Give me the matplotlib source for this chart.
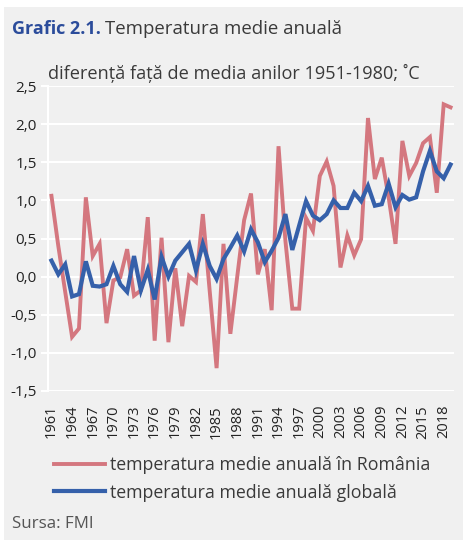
import matplotlib.pyplot as plt
from matplotlib.patches import Rectangle

# date: abaterea temperaturii medii anuale fata de media 1951-1980
ani = list(range(1961, 2020))
romania = [1.06, 0.40, -0.20, -0.79, -0.68, 1.04, 0.27, 0.43, -0.61, -0.05,
           -0.01, 0.36, -0.25, -0.18, 0.78, -0.84, 0.51, -0.86, 0.11, -0.65,
           0.01, -0.07, 0.82, -0.19, -1.20, 0.43, -0.75, 0.00, 0.74, 1.09,
           0.03, 0.36, -0.44, 1.71, 0.47, -0.42, -0.42, 0.77, 0.60, 1.32,
           1.51, 1.19, 0.12, 0.54, 0.28, 0.49, 2.08, 1.28, 1.56, 1.04,
           0.43, 1.78, 1.32, 1.49, 1.75, 1.83, 1.10, 2.26, 2.22]
globala = [0.21, 0.03, 0.16, -0.26, -0.23, 0.20, -0.12, -0.13, -0.10, 0.14,
           -0.10, -0.20, 0.27, -0.18, 0.09, -0.30, 0.26, 0.00, 0.21, 0.32,
           0.43, 0.08, 0.43, 0.14, -0.03, 0.23, 0.38, 0.54, 0.33, 0.62,
           0.45, 0.19, 0.34, 0.51, 0.82, 0.35, 0.67, 0.99, 0.80, 0.74,
           0.82, 1.00, 0.90, 0.90, 1.10, 0.99, 1.19, 0.93, 0.95, 1.22,
           0.91, 1.07, 1.01, 1.04, 1.38, 1.65, 1.38, 1.29, 1.47]
yticks = [-1.5, -1.0, -0.5, 0.0, 0.5, 1.0, 1.5, 2.0, 2.5]
etichete = ['temperatura medie anuală în România', 'temperatura medie anuală globală']

gri = '#f0f0f0'
rosu = '#d4777f'
albastru = '#3560aa'
text_col = '#3a3a3a'
font = ['Open Sans', 'DejaVu Sans']

plt.rcParams['font.family'] = font

fig = plt.figure(figsize=(4.64, 5.40), dpi=100)
fig.patch.set_facecolor('white')
fig.patches.append(Rectangle((4 / 464, 0), 1, 533 / 540, transform=fig.transFigure,
                             facecolor=gri, edgecolor='none', zorder=-10))

ax = fig.add_axes([48 / 464, 1 - 391 / 540, (454 - 48) / 464, (391 - 86) / 540])
ax.set_facecolor(gri)

ax.plot(ani, romania, color=rosu, lw=2.8, solid_joinstyle='miter', zorder=3,
        label=etichete[0])
ax.plot(ani, globala, color=albastru, lw=3.0, solid_joinstyle='miter', zorder=4,
        label=etichete[1])

ax.set_xlim(1960.5, 2019.5)
ax.set_ylim(-1.5, 2.5)
ax.set_yticks(yticks)
ax.set_yticklabels([('%.1f' % v).replace('.', ',') for v in yticks],
                   fontsize=11, color='#222222')
ax.set_xticks(ani[::3])
ax.set_xticklabels([str(a) for a in ani[::3]], rotation=90, fontsize=10.5,
                   color='#222222')
ax.tick_params(axis='x', length=0, pad=10)
ax.tick_params(axis='y', length=5, color='white', width=1.5, pad=3)
ax.grid(axis='y', color='white', lw=1.5)
ax.set_axisbelow(True)
for s in ['top', 'right', 'bottom']:
    ax.spines[s].set_visible(False)
ax.spines['left'].set_color('white')
ax.spines['left'].set_linewidth(1.5)

# titlu
t1 = fig.text(12 / 464, 1 - 29 / 540, 'Grafic 2.1.', fontsize=13, fontweight='bold',
              color='#2b4c9b', va='center', ha='left')
fig.canvas.draw()
bb = t1.get_window_extent(renderer=fig.canvas.get_renderer())
fig.text(bb.x1 / 464 + 4 / 464, 1 - 29 / 540, 'Temperatura medie anuală',
         fontsize=13.4, color=text_col, va='center', ha='left')
fig.text(48 / 464, 1 - 73 / 540, 'diferență față de media anilor 1951-1980; ˚C',
         fontsize=13.1, color=text_col, va='center', ha='left')

# legenda
fig.legend(loc='upper left', bbox_to_anchor=(45 / 464, 1 - 447 / 540), frameon=False,
           fontsize=12.8, handlelength=2.9, handletextpad=0.25, labelspacing=0.55,
           borderpad=0, labelcolor=text_col)

fig.text(12 / 464, 1 - 524 / 540, 'Sursa: FMI', fontsize=12.2, color='#555555',
         va='center', ha='left')

fig.savefig('out.png', dpi=100)
